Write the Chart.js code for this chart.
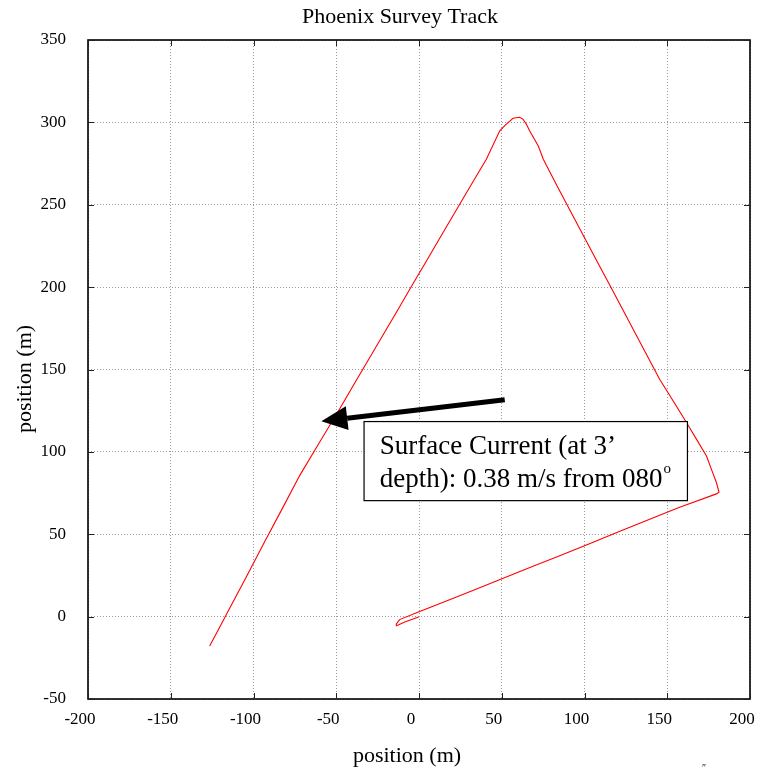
<!DOCTYPE html>
<html><head><meta charset="utf-8">
<script src="https://cdn.jsdelivr.net/npm/chart.js@4/dist/chart.umd.min.js"></script>
<style>html,body{margin:0;padding:0;background:#fff}#wrap{width:759px;height:771px}</style>
</head><body><div id="wrap"><canvas id="c" width="759" height="771"></canvas></div>
<script>
const chartTitle = 'Phoenix Survey Track';
const xAxisTitle = 'position (m)';
const yAxisTitle = 'position (m)';
const xTicks = [-200, -150, -100, -50, 0, 50, 100, 150, 200];
const yTicks = [-50, 0, 50, 100, 150, 200, 250, 300, 350];

// survey track (m), in travel order
const trackX = [-0.2, -8.6, -13.5, -13.7, -11.7, 0.4, 19.6, 31, 49, 67, 85, 103, 121, 139, 157.5, 179.7, 181.3,
  179.7, 176.7, 173.7, 167.7, 161.6, 153.7, 145.4, 139.0, 131.0, 123.0, 115.0, 106.9, 98.9, 90.9, 82.9, 75.1,
  72.1, 66.9, 64.9, 62.8, 60.8, 56.8, 51.8, 48.8, 40.7, 31.9, 23.0, 14.1, 5.3, -4.7, -12.4, -21.3, -30.2, -39.1,
  -47.9, -59.9, -72.1, -82.7, -93.9, -105.0, -115.2, -121.0, -126.5];
const trackY = [-0.2, -3.2, -5.5, -4.4, -1.8, 3.1, 10.7, 15.3, 22.6, 29.8, 37.0, 44.3, 51.6, 58.9, 66.4, 74.5, 75.5,
  81.4, 89.4, 97.5, 107.6, 117.8, 130.7, 144.1, 156.2, 171.4, 186.5, 201.7, 216.9, 232.1, 247.2, 262.4, 277.6,
  285.7, 294.8, 298.9, 302.0, 303.1, 302.5, 298.0, 294.9, 277.6, 262.7, 247.6, 232.4, 217.2, 200.2, 186.9, 171.7,
  156.5, 141.4, 126.2, 106.1, 85.6, 65.4, 44.2, 22.9, 3.5, -7.5, -17.8];

// annotation (in data units)
const noteLines = ['Surface Current (at 3\u2019', 'depth): 0.38 m/s from 080'];
const noteSuperscript = 'o';
const noteBox = {x1: -33.2, x2: 162.2, y1: 118.4, y2: 70.4};
const noteText = {x: -23.7, y: [98.8, 78.7]};
const arrowTail = {x: 51.8, y: 131.7};
const arrowTip = {x: -59, y: 118.6};

const SERIF = '"Liberation Serif", "Times New Roman", serif';

const decor = {
  id: 'decor',
  afterDatasetsDraw(chart) {
    const {ctx, chartArea: a, scales: {x, y}} = chart;
    ctx.save();
    // frame
    ctx.strokeStyle = '#000';
    ctx.lineWidth = 1.6;
    ctx.strokeRect(a.left, a.top, a.right - a.left, a.bottom - a.top);
    // inward ticks on all four sides
    ctx.lineWidth = 1;
    ctx.strokeStyle = '#222';
    ctx.beginPath();
    xTicks.forEach(v => {
      const px = Math.round(x.getPixelForValue(v)) + 0.5;
      ctx.moveTo(px, a.bottom); ctx.lineTo(px, a.bottom - 6);
      ctx.moveTo(px, a.top); ctx.lineTo(px, a.top + 6);
    });
    yTicks.forEach(v => {
      const py = Math.round(y.getPixelForValue(v)) + 0.5;
      ctx.moveTo(a.left, py); ctx.lineTo(a.left + 6, py);
      ctx.moveTo(a.right, py); ctx.lineTo(a.right - 6, py);
    });
    ctx.stroke();

    // arrow
    const tx = x.getPixelForValue(arrowTail.x), ty = y.getPixelForValue(arrowTail.y);
    const hx = x.getPixelForValue(arrowTip.x), hy = y.getPixelForValue(arrowTip.y);
    const ang = Math.atan2(hy - ty, hx - tx);
    const headLen = 26, headHalf = 12;
    const bx = hx - headLen * Math.cos(ang), by = hy - headLen * Math.sin(ang);
    ctx.strokeStyle = '#000';
    ctx.lineWidth = 5;
    ctx.lineCap = 'butt';
    ctx.beginPath(); ctx.moveTo(tx, ty); ctx.lineTo(bx, by); ctx.stroke();
    ctx.fillStyle = '#000';
    ctx.beginPath();
    ctx.moveTo(hx, hy);
    ctx.lineTo(bx + headHalf * Math.sin(ang), by - headHalf * Math.cos(ang));
    ctx.lineTo(bx - headHalf * Math.sin(ang), by + headHalf * Math.cos(ang));
    ctx.closePath(); ctx.fill();

    // note box
    const X1 = x.getPixelForValue(noteBox.x1), X2 = x.getPixelForValue(noteBox.x2);
    const Y1 = y.getPixelForValue(noteBox.y1), Y2 = y.getPixelForValue(noteBox.y2);
    ctx.fillStyle = '#fff';
    ctx.fillRect(X1, Y1, X2 - X1, Y2 - Y1);
    ctx.lineWidth = 1.2;
    ctx.strokeStyle = '#000';
    ctx.strokeRect(X1, Y1, X2 - X1, Y2 - Y1);
    ctx.fillStyle = '#000';
    ctx.font = '27px ' + SERIF;
    ctx.textAlign = 'left';
    ctx.textBaseline = 'alphabetic';
    const nx = x.getPixelForValue(noteText.x);
    noteLines.forEach((t, i) => ctx.fillText(t, nx, y.getPixelForValue(noteText.y[i])));
    const w2 = ctx.measureText(noteLines[1]).width;
    ctx.font = '15px ' + SERIF;
    ctx.fillText(noteSuperscript, nx + w2 + 1, y.getPixelForValue(noteText.y[1]) - 14);

    // titles
    ctx.font = '22px ' + SERIF;
    ctx.textAlign = 'center';
    ctx.fillText(chartTitle, 400, 23);
    ctx.fillText(xAxisTitle, 407, 762);
    ctx.save();
    ctx.translate(31, 379);
    ctx.rotate(-Math.PI / 2);
    ctx.fillText(yAxisTitle, 0, 0);
    ctx.restore();
    ctx.font = '10px ' + SERIF;
    ctx.fillText('\u2033', 704, 771);
    ctx.restore();
  }
};

new Chart(document.getElementById('c'), {
  type: 'scatter',
  data: {
    datasets: [{
      label: 'track',
      data: trackX.map((v, i) => ({x: v, y: trackY[i]})),
      showLine: true,
      borderColor: '#ff0000',
      backgroundColor: '#ff0000',
      borderWidth: 1.1,
      pointRadius: 0,
      tension: 0
    }]
  },
  options: {
    responsive: false,
    animation: false,
    devicePixelRatio: 1,
    layout: {padding: {top: 40, right: 9, left: 0, bottom: 0}},
    plugins: {legend: {display: false}, title: {display: false}, tooltip: {enabled: false}},
    scales: {
      x: {
        type: 'linear', min: -200, max: 200,
        afterBuildTicks: s => { s.ticks = xTicks.map(v => ({value: v})); },
        afterFit: s => { s.height = 72; s.paddingLeft = 0; s.paddingRight = 0; },
        grid: {color: '#9a9a9a', lineWidth: 1, drawTicks: false},
        border: {display: false, dash: [1, 2]},
        ticks: {font: {family: SERIF, size: 17}, color: '#000', padding: 10, labelOffset: -8, maxRotation: 0}
      },
      y: {
        type: 'linear', min: -50, max: 350,
        afterBuildTicks: s => { s.ticks = yTicks.map(v => ({value: v})); },
        afterFit: s => { s.width = 88; s.paddingTop = 0; s.paddingBottom = 0; },
        grid: {color: '#9a9a9a', lineWidth: 1, drawTicks: false},
        border: {display: false, dash: [1, 2]},
        ticks: {font: {family: SERIF, size: 17}, color: '#000', padding: 22}
      }
    }
  },
  plugins: [decor]
});
</script></body></html>
